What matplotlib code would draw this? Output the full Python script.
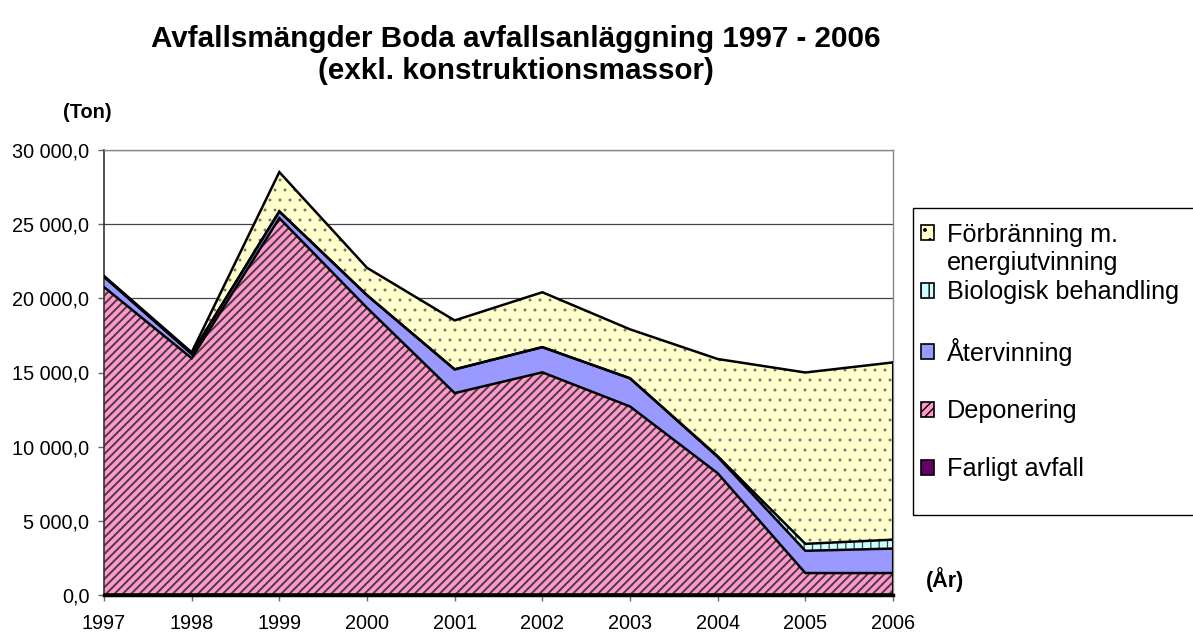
import numpy as np
import matplotlib
matplotlib.use("Agg")
import matplotlib.pyplot as plt
import matplotlib.hatch as mhatch
from matplotlib.patches import Patch, Rectangle
from matplotlib.ticker import FuncFormatter, MultipleLocator

plt.rcParams['font.family'] = ['Liberation Sans', 'DejaVu Sans']
plt.rcParams['hatch.linewidth'] = 1.0

# sparser dot hatch, closer to the spreadsheet "dotted" fill
try:
    class _SparseDots(mhatch.SmallFilledCircles):
        size = 0.12

        def __init__(self, hatch, density):
            super().__init__(hatch, density)
            self.num_rows = int(hatch.count('.') * 10)
            mhatch.Circles.__init__(self, hatch, density)

    mhatch._hatch_types = [(_SparseDots if t is mhatch.SmallFilledCircles else t)
                           for t in mhatch._hatch_types]
except Exception:
    pass

# ---- data (ton) ----
years = [1997, 1998, 1999, 2000, 2001, 2002, 2003, 2004, 2005, 2006]
farligt_avfall = [60, 60, 60, 60, 60, 60, 60, 60, 60, 60]
deponering = [20700, 15900, 25350, 19300, 13550, 14950, 12650, 8150, 1420, 1420]
atervinning = [700, 300, 450, 850, 1600, 1700, 1900, 1100, 1500, 1650]
biologisk = [0, 0, 0, 0, 0, 0, 0, 50, 470, 600]
forbranning = [50, 100, 2650, 1850, 3300, 3700, 3300, 6550, 11550, 11950]

series_labels = ["Farligt avfall", "Deponering", "Återvinning",
                 "Biologisk behandling", "Förbränning m.\nenergiutvinning"]
title_text = "Avfallsmängder Boda avfallsanläggning 1997 - 2006\n(exkl. konstruktionsmassor)"
y_unit = "(Ton)"
x_unit = "(År)"

colors = ["#660066", "#FF99CC", "#9999FF", "#CCFFFF", "#FFFFCC"]
hatches = [None, "////", None, "||", "."]
hatch_colors = ["#660066", "#4a3a44", "#9999FF", "#404040", "#707070"]
hatch_lws = [1.0, 1.4, 1.0, 0.9, 0.3]

W, H = 1193, 634
fig = plt.figure(figsize=(W / 100, H / 100), dpi=100)
ax = fig.add_axes([104 / W, 1 - 595 / H, (893 - 104) / W, (595 - 150) / H])

x = np.array(years)
data = [farligt_avfall, deponering, atervinning, biologisk, forbranning]
base = np.zeros(len(years))
tops = []
for vals, c, h, hc, hl in zip(data, colors, hatches, hatch_colors, hatch_lws):
    top = base + np.array(vals, dtype=float)
    with plt.rc_context({'hatch.linewidth': hl}):
        coll = ax.fill_between(x, base, top, facecolor=c, edgecolor=hc,
                               hatch=h, linewidth=0, zorder=2)
    if hasattr(coll, "set_hatch_linewidth"):
        coll.set_hatch_linewidth(hl)
    tops.append(top)
    base = top
for top in tops:
    ax.plot(x, top, color="black", linewidth=1.8, zorder=3,
            solid_joinstyle="miter")
ax.plot([x[-1], x[-1]], [0, tops[-1][-1]], color="black", lw=1.5, zorder=3)

ax.set_xlim(years[0], years[-1])
ax.set_ylim(0, 30000)
ax.set_xticks(years)
ax.yaxis.set_major_locator(MultipleLocator(5000))
ax.yaxis.set_major_formatter(FuncFormatter(
    lambda v, p: f"{v:,.1f}".replace(",", " ").replace(".", ",")))
ax.grid(axis="y", color="#444444", linewidth=0.9, zorder=1)
ax.set_axisbelow(True)

for s in ["top", "right"]:
    ax.spines[s].set_color("#888888")
    ax.spines[s].set_linewidth(1.0)
ax.spines["left"].set_color("#333333")
ax.spines["left"].set_linewidth(1.2)
ax.spines["bottom"].set_color("black")
ax.spines["bottom"].set_linewidth(2.5)
ax.spines["bottom"].set_zorder(4)

ax.tick_params(axis="both", direction="out", length=4.5, width=1,
               color="#666666", labelsize=14.3)
ax.tick_params(axis="y", pad=6)
ax.tick_params(axis="x", pad=9)

fig.text(516 / W, 1 - 55 / H, title_text, ha="center", va="center",
         fontsize=21.3, fontweight="bold", linespacing=1.22)
fig.text(87 / W, 1 - 112 / H, y_unit, ha="center", va="center",
         fontsize=14.3, fontweight="bold")
fig.text(945 / W, 1 - 580 / H, x_unit, ha="center", va="center",
         fontsize=15.5, fontweight="bold")

# legend (top series first)
leg_fs = 18.2
handles = []
labels = []
for i in reversed(range(len(data))):
    handles.append(Patch(facecolor=colors[i], hatch=hatches[i],
                         edgecolor="black", linewidth=1.2))
    labels.append(series_labels[i].split("\n")[0])

leg = fig.legend(handles, labels, loc="upper left",
                 bbox_to_anchor=(913 / W, 1 - 215 / H),
                 frameon=False, fontsize=leg_fs, handlelength=0.55,
                 handleheight=0.55, handletextpad=0.5, labelspacing=1.33,
                 borderpad=0.3, borderaxespad=0)
first_text = leg.get_texts()[0]
second_line = plt.Annotation(series_labels[-1].split("\n")[1], xy=(0, 0),
                             xycoords=first_text, xytext=(0, -28 * 0.72),
                             textcoords="offset points", ha="left",
                             va="bottom", fontsize=leg_fs)
second_line.set_zorder(10)
fig.add_artist(second_line)
fig.add_artist(Rectangle((913 / W, 1 - 515 / H), (1200 - 913) / W,
                         (515 - 208) / H, transform=fig.transFigure,
                         facecolor="none", edgecolor="black", linewidth=1.0))

fig.savefig("out.png", dpi=100, facecolor="white")
